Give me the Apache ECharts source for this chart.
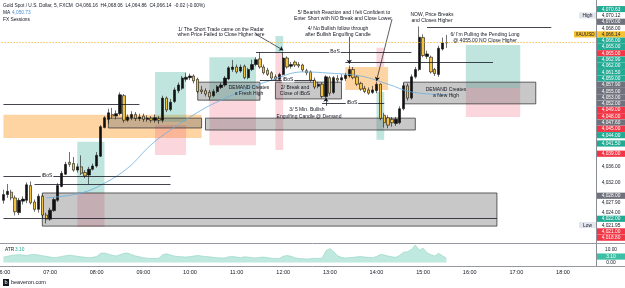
<!DOCTYPE html>
<html>
<head>
<meta charset="utf-8">
<script src="https://cdn.jsdelivr.net/npm/echarts@6/dist/echarts.min.js"></script>
<style>
html, body { margin: 0; padding: 0; background: #fff; }
#chart { width: 625px; height: 288px; }
</style>
</head>
<body>
<div id="chart"></div>
<script>
// XAUUSD 5 分钟图，06:00 开始
const slotCount = 153;

// [open, close, low, high]
const candles = [
  [4027.6,4029.0,4026.8,4030.2],[4029.0,4029.8,4028.2,4031.6],[4029.6,4028.2,4027.6,4030.2],[4028.2,4024.8,4023.9,4028.8],
  [4024.6,4027.6,4024.0,4028.2],[4027.4,4027.9,4026.6,4028.6],[4027.6,4031.4,4026.9,4032.0],[4031.2,4027.0,4026.6,4032.2],
  [4027.2,4025.4,4024.8,4027.8],[4025.4,4028.6,4024.6,4029.2],[4028.6,4024.0,4023.2,4029.0],[4024.0,4023.0,4021.95,4024.6],
  [4023.0,4025.2,4022.6,4025.8],[4025.1,4027.8,4024.8,4028.3],[4027.6,4031.2,4027.2,4031.8],[4031.0,4034.2,4030.8,4034.8],
  [4034.0,4036.4,4033.8,4037.0],[4036.9,4036.4,4035.8,4039.4],[4036.6,4035.0,4034.6,4038.2],[4035.0,4035.8,4034.4,4036.6],
  [4035.8,4034.2,4033.8,4038.6],[4034.4,4033.6,4033.0,4035.0],[4033.8,4035.2,4031.6,4035.8],[4035.2,4036.0,4034.9,4036.6],
  [4036.0,4038.6,4035.6,4039.4],[4038.4,4045.6,4038.2,4046.0],[4045.4,4047.8,4045.2,4048.2],[4047.4,4049.0,4046.4,4050.0],
  [4048.6,4048.2,4047.6,4050.2],[4048.2,4048.8,4047.4,4049.6],[4048.8,4053.4,4048.4,4054.0],[4053.2,4047.2,4046.6,4053.6],
  [4047.2,4048.0,4046.8,4048.6],[4047.8,4048.6,4047.2,4049.4],[4048.6,4047.6,4047.0,4049.2],[4047.6,4048.0,4047.0,4048.8],
  [4048.2,4047.4,4046.8,4048.8],[4047.4,4047.7,4046.8,4048.4],[4047.7,4047.2,4046.6,4048.2],[4047.2,4047.8,4046.6,4048.6],
  [4047.6,4047.2,4046.3,4048.2],[4047.2,4052.6,4046.6,4053.2],[4052.6,4049.7,4049.2,4053.0],[4049.8,4051.6,4049.4,4052.4],
  [4051.8,4054.6,4051.4,4055.2],[4054.4,4055.8,4053.8,4056.4],[4055.0,4057.5,4054.6,4058.0],[4057.2,4057.7,4056.6,4058.8],
  [4057.6,4058.0,4057.0,4058.6],[4058.0,4056.8,4056.2,4058.4],[4057.2,4054.2,4053.8,4057.6],[4054.6,4054.2,4053.6,4055.6],
  [4054.4,4053.6,4053.0,4055.0],[4054.0,4052.9,4052.1,4054.6],[4053.2,4054.2,4052.8,4054.8],[4054.2,4055.4,4053.8,4055.8],
  [4055.2,4055.8,4054.8,4056.4],[4055.8,4057.5,4055.4,4058.0],[4057.3,4060.0,4057.0,4060.4],[4059.6,4060.2,4059.0,4061.9],
  [4060.2,4059.0,4058.6,4060.8],[4059.2,4060.2,4058.8,4060.8],[4060.4,4057.6,4057.2,4060.8],[4057.6,4059.6,4057.2,4060.0],
  [4059.6,4060.8,4059.2,4062.0],[4060.8,4062.0,4060.4,4062.6],[4062.2,4060.2,4059.8,4063.8],[4060.2,4058.8,4058.4,4060.8],
  [4059.4,4058.4,4058.0,4060.0],[4058.8,4057.5,4057.0,4059.2],[4057.8,4057.2,4056.8,4058.4],[4057.2,4058.4,4056.8,4058.8],
  [4058.4,4062.4,4058.2,4063.9],[4062.4,4060.2,4059.8,4062.8],[4060.4,4060.8,4059.8,4061.4],[4061.4,4060.7,4060.2,4061.8],
  [4060.8,4060.5,4060.0,4061.4],[4060.7,4059.5,4059.0,4061.0],[4059.3,4058.8,4058.2,4059.8],[4059.0,4057.0,4056.6,4059.4],
  [4057.0,4055.3,4054.8,4057.6],[4055.5,4056.0,4055.0,4056.6],[4056.0,4053.0,4052.6,4056.4],[4053.0,4057.8,4052.6,4058.2],
  [4057.6,4053.8,4053.2,4058.0],[4054.0,4057.6,4053.6,4058.0],[4057.4,4057.0,4056.4,4058.2],[4057.0,4057.6,4056.6,4058.4],
  [4057.4,4058.2,4056.8,4058.8],[4058.0,4059.6,4057.6,4060.6],[4059.6,4057.6,4057.2,4060.2],[4057.8,4056.0,4055.6,4058.2],
  [4056.2,4054.8,4054.4,4056.6],[4055.0,4054.2,4053.8,4055.6],[4054.6,4053.8,4053.4,4055.2],[4054.0,4054.6,4053.6,4055.6],
  [4054.4,4056.0,4053.8,4056.6],[4056.0,4047.6,4047.2,4056.2],[4048.4,4046.6,4045.4,4049.0],[4047.8,4046.0,4045.2,4048.4],
  [4047.4,4046.6,4045.6,4048.0],[4046.4,4047.4,4045.8,4048.0],[4046.6,4050.0,4046.2,4050.6],[4050.0,4055.6,4049.6,4056.2],
  [4055.6,4052.6,4052.0,4056.2],[4052.6,4057.8,4052.2,4058.4],[4057.8,4059.6,4057.4,4060.2],[4059.6,4067.5,4059.2,4070.12],
  [4067.4,4063.0,4062.6,4068.2],[4062.8,4063.4,4062.2,4064.2],[4062.6,4059.0,4058.6,4063.0],[4059.6,4058.6,4058.0,4060.0],
  [4058.4,4064.8,4057.8,4065.4],[4064.6,4066.1,4064.2,4067.4],[4066.16,4066.14,4064.86,4068.06]
];

const atrValues = [
  4.0,4.6,5.2,5.6,5.8, 5.5,5.2,5.8,6.0,5.6,5.0,4.6, 4.0,3.6,3.9,4.5,5.0,5.4,5.0,
  4.6,4.2,3.8,3.6,3.8,4.4, 6.8,7.0,6.2, 5.4,4.8,5.8,6.8, 7.0, 5.8,4.8,4.2,3.6,3.2,3.0,3.0,3.2,
  5.8,6.4,5.6, 4.8,4.4,4.2,4.0,4.4,4.8,5.2, 4.8,4.4,4.2,3.8,3.6,3.4,3.4, 4.2,4.4,4.0,3.6,4.2,4.0,3.6,
  3.4,3.8,4.0,3.6,3.2,3.0,3.0, 4.6,5.2,4.6,3.6,3.0, 2.8,2.6,2.8,3.2,3.0,3.2, 8.6,10.4,8.0,
  5.0,3.8,3.4,3.6,3.8, 4.2,4.4,4.0,3.8,3.6,4.4, 6.0,5.6,4.8,4.2,3.8, 5.4,7.6,8.0,9.6, 13.0,9.0,10.6,
  7.2,5.8,4.8,6.8,5.0,3.1
];

const maPoints = [
  ['06:55',4028.2],['07:40',4029.4],['08:10',4031.8],['08:40',4035.5],['09:10',4041.2],['09:35',4044.8],
  ['10:15',4049.7],['10:40',4052.1],['11:10',4054.6],['11:45',4057.0],['12:25',4059.0],['13:00',4058.7],
  ['13:40',4058.0],['14:15',4056.0],['14:45',4054.1],['15:30',4053.4]
];

// 画图工具：[起, 止, 上沿, 下沿]
const tealBoxes = [
  ['07:35','08:10',4041.9,4029.4],['09:15','09:55',4059.0,4046.8],['10:25','11:25',4062.6,4052.1],
  ['11:50','12:00',4067.8,4063.6],['14:00','14:10',4054.1,4042.4],['15:55','17:05',4065.6,4055.1]
];
const pinkBoxes = [
  ['07:35','08:10',4029.4,4021.1],['09:15','09:55',4046.0,4038.7],['10:25','11:25',4052.1,4041.1],
  ['11:50','12:00',4063.6,4039.9],['14:00','14:10',4064.9,4060.2],['15:55','17:05',4055.1,4048.0]
];
const orangeBoxes = [['06:00','10:15',4048.5,4042.85],['13:20','14:15',4060.2,4054.6]];
const grayBoxes = [
  ['06:50','16:35',4029.4,4021.3],['08:15','10:15',4047.7,4045.3],['10:10','11:30',4056.5,4052.1],
  ['10:20','14:50',4047.7,4044.8],['11:50','13:15',4056.5,4052.4],['14:35','17:25',4056.5,4051.2]
];
// 水平线：[起, 止, 价格]
const hLines = [
  ['06:00','08:55',4051.2],['06:00','09:35',4033.55],['06:40','09:35',4031.6],['06:00','16:35',4023.3],
  ['11:25','14:45',4063.9],['11:30','12:40',4057.0],['12:50','14:10',4051.4],['13:20','16:30',4061.4],
  ['15:05','17:45',4070.0]
];
// 箭头：[起点, 终点, 弯曲度]
const arrows = [
  [['11:25',4068.2],['12:00',4064.3],0],
  [['13:25',4067.6],['13:25',4061.0],0],
  [['14:20',4071.9],['14:00',4056.8],0.35],
  [['12:55',4050.7],['12:55',4052.7],0]
];
const lastPrice = 4066.14;

// 右侧价格标签：[价格, 类型]
const priceTags = [
  [4070.63,'up'],[4070.12,'high'],[4070.00,'gray'],[4068.00,'plain'],[4066.14,'last'],[4066.00,'up'],
  [4065.00,'up'],[4065.00,'down'],[4062.90,'up'],[4062.00,'up'],[4061.50,'up'],[4059.00,'up'],
  [4057.90,'gray'],[4055.00,'gray'],[4053.00,'gray'],[4052.00,'gray'],[4049.00,'down'],[4048.00,'down'],
  [4047.60,'gray'],[4045.00,'down'],[4044.00,'up'],[4041.50,'up'],[4039.00,'down'],[4036.00,'plain'],
  [4032.00,'plain'],[4028.00,'gray'],[4027.90,'plain'],[4024.00,'plain'],[4022.00,'up'],[4021.95,'low'],
  [4021.00,'down'],[4018.80,'down']
];
const atrTags = [[10.00,'plain'],[3.10,'atr'],[0.00,'plain']];

const notes = [
  ['1/ The Short Trade came on the Radar', 221, 29.5], ['when Price Failed to Close Higher here', 221, 35],
  ['5/ Bearish Reaction and I felt Confident to', 344, 12.5], ['Enter Short with NO Break and Close Lower', 343, 18.5],
  ['4/ No Bullish follow through', 338, 29], ['after Bullish Engulfing Candle', 338, 34.5],
  ['NOW, Price Breaks', 432, 15], ['and Closes Higher', 432, 21],
  ['6/ I\u2019m Pulling the Pending Long', 485, 34.5], ['@ 4055.00 NO Close Higher', 485, 40.8],
  ['DEMAND Creates', 249, 87.5], ['a Fresh High', 249, 94],
  ['2/ Break and', 295, 87.5], ['Close of iBoS', 295, 93.5],
  ['3/ 5 Min. Bullish', 307, 110], ['Engulfing Candle @ Demand', 309, 116.5],
  ['DEMAND Creates', 446, 89.5], ['a New High', 446, 96]
];
const lineTags = [['BoS', 335, 52], ['iBoS', 288, 80], ['iBoS', 352, 103], ['iBoS', 47, 176]];

const FONT = '"Liberation Sans", Arial, sans-serif';
const pad = n => (n < 10 ? '0' : '') + n;
const times = [];
for (let i = 0; i < slotCount; i++) {
  const m = 360 + 5 * i;
  times.push(pad(Math.floor(m / 60)) + ':' + pad(m % 60));
}

function boxData(list, fill, border) {
  return list.map(b => [
    { xAxis: b[0], yAxis: b[2], itemStyle: { color: fill, borderColor: border || 'transparent', borderWidth: border ? 0.8 : 0 } },
    { xAxis: b[1], yAxis: b[3] }
  ]);
}

const areas = [].concat(
  boxData(orangeBoxes, 'rgba(255,160,50,0.45)'),
  boxData(tealBoxes, 'rgba(60,175,155,0.32)'),
  boxData(pinkBoxes, 'rgba(240,90,120,0.25)'),
  boxData(grayBoxes, 'rgba(110,110,110,0.38)', '#3a3a3a')
);

const lines = [].concat(
  hLines.map(l => [{ coord: [l[0], l[2]] }, { coord: [l[1], l[2]] }]),
  arrows.map(a => [
    { coord: a[0], symbol: 'none', lineStyle: { color: '#131722', width: 0.7, curveness: a[2] } },
    { coord: a[1], symbol: 'arrow', symbolSize: 4 }
  ]),
  [{ yAxis: lastPrice, lineStyle: { color: '#f0b429', type: [1.2, 1.8], width: 1 } }]
);

const chart = echarts.init(document.getElementById('chart'));
chart.setOption({
  animation: false,
  backgroundColor: '#fff',
  grid: [
    { left: 1.5, right: 29, top: 0, height: 243, outerBoundsMode: 'none' },
    { left: 1.5, right: 29, top: 243, height: 23, outerBoundsMode: 'none' }
  ],
  xAxis: [
    { type: 'category', gridIndex: 0, data: times, axisLine: { show: false }, axisTick: { show: false },
      axisLabel: { show: false }, splitLine: { show: false } },
    { type: 'category', gridIndex: 1, data: times, axisLine: { show: false }, axisTick: { show: false },
      axisLabel: { interval: (idx, val) => val.endsWith(':00'), fontSize: 5.5, color: '#131722', margin: 3, fontFamily: FONT },
      splitLine: { show: false } }
  ],
  yAxis: [
    { type: 'value', gridIndex: 0, position: 'right', min: 4017.17, max: 4076.59,
      axisLine: { show: true, lineStyle: { color: '#8a8d96', width: 1 } }, axisTick: { show: false },
      axisLabel: { show: false }, splitLine: { show: false } },
    { type: 'value', gridIndex: 1, position: 'right', min: -2.59, max: 14.44,
      axisLine: { show: true, lineStyle: { color: '#8a8d96', width: 1 } }, axisTick: { show: false },
      axisLabel: { show: false }, splitLine: { show: false } }
  ],
  series: [
    {
      type: 'candlestick', xAxisIndex: 0, yAxisIndex: 0, data: candles, barWidth: 2.8,
      itemStyle: { color: '#111', color0: '#f4c344', borderColor: '#111', borderColor0: '#111', borderWidth: 0.6 },
      markArea: { silent: true, data: areas },
      markLine: { silent: true, symbol: 'none', label: { show: false },
        lineStyle: { color: '#131722', width: 0.8, type: 'solid' }, data: lines }
    },
    {
      type: 'line', xAxisIndex: 0, yAxisIndex: 0, data: maPoints, smooth: 0.4, symbol: 'none',
      lineStyle: { color: '#6aaee0', width: 0.8 }, z: 3
    },
    {
      type: 'line', xAxisIndex: 1, yAxisIndex: 1, data: atrValues, symbol: 'none',
      lineStyle: { color: '#8fd3c3', width: 0.6 }, areaStyle: { color: '#bfe8de', opacity: 1 }
    }
  ]
});

// 右侧标签防重叠：按簇居中排布
function stackTags(items, h, minY, maxY) {
  items.sort((a, b) => a.y - b.y);
  const place = c => {
    let top = c.sum / c.items.length - (c.items.length - 1) * h / 2;
    top = Math.max(minY + h / 2, Math.min(top, maxY - h / 2 - (c.items.length - 1) * h));
    c.top = top;
  };
  const clusters = items.map(it => ({ items: [it], sum: it.y }));
  clusters.forEach(place);
  let changed = true;
  while (changed) {
    changed = false;
    for (let k = 0; k < clusters.length - 1; k++) {
      const a = clusters[k], b = clusters[k + 1];
      if (a.top + a.items.length * h > b.top + 0.01) {
        a.items = a.items.concat(b.items); a.sum += b.sum;
        clusters.splice(k + 1, 1); place(a); changed = true; break;
      }
    }
  }
  clusters.forEach(c => c.items.forEach((it, j) => { it.py = c.top + j * h; }));
  return items;
}

const tagColors = {
  up: ['#22ab94', '#fff'], down: ['#f23645', '#fff'], gray: ['#6f727c', '#fff'],
  last: ['#f7c331', '#131722'], high: ['#fff', '#131722'], low: ['#fff', '#131722'],
  plain: [null, '#131722'], atr: ['#3cbfa4', '#fff']
};
const fmt = v => v.toLocaleString('en-US', { minimumFractionDigits: 2, maximumFractionDigits: 2 });

const g = [];
function txt(text, x, y, opt) {
  opt = opt || {};
  g.push({ type: 'text', x, y, z: 100, silent: true, style: Object.assign({
    text, fill: '#131722', font: (opt.size || 5) + 'px ' + FONT,
    align: opt.align || 'center', verticalAlign: 'middle', textAlign: opt.align || 'center', textVerticalAlign: 'middle'
  }, opt.style || {}) });
}
function rect(x, y, w, h, fill, z) {
  g.push({ type: 'rect', z: z || 99, silent: true, shape: { x, y, width: w, height: h }, style: { fill } });
}
function hline(x1, x2, y, color) {
  g.push({ type: 'line', z: 98, silent: true, shape: { x1, y1: y, x2, y2: y }, style: { stroke: color, lineWidth: 1 } });
}

function drawTags(list, axisIndex, minY, maxY) {
  const items = list.map(t => ({ v: t[0], kind: t[1], y: chart.convertToPixel({ yAxisIndex: axisIndex }, t[0]) }));
  stackTags(items, 6.3, minY, maxY).forEach(it => {
    const c = tagColors[it.kind];
    if (c[0]) rect(597, it.py - 3.1, 28, 6.2, c[0]);
    txt(fmt(it.v), 611, it.py + 0.2, { size: 4.8, style: { fill: c[1] } });
    if (it.kind === 'high' || it.kind === 'low') {
      rect(579, it.py - 3.1, 17, 6.2, '#e3e6ee');
      txt(it.kind === 'high' ? 'High' : 'Low', 587.5, it.py + 0.2, { size: 4.8 });
    }
    if (it.kind === 'last') {
      rect(574, it.py - 3.1, 22, 6.2, '#f7c331');
      txt('XAUUSD', 585, it.py + 0.2, { size: 4.6 });
    }
  });
}

hline(0, 625, 243.5, '#9598a1');
hline(0, 625, 266.5, '#9598a1');
drawTags(priceTags, 0, 0, 243);
drawTags(atrTags, 1, 244, 266);

notes.forEach(n => txt(n[0], n[1], n[2]));
lineTags.forEach(n => txt(n[0], n[1], n[2], { style: { backgroundColor: '#fff', padding: [0, 1] } }));

txt('Gold Spot / U.S. Dollar, 5, FXCM  O4,066.16  H4,068.06  L4,064.86  C4,066.14  -0.02 (-0.00%)', 3, 6, { align: 'left', size: 4.8 });
txt('MA', 3, 13, { align: 'left', size: 4.8 });
txt('4,050.73', 12, 13, { align: 'left', size: 4.8, style: { fill: '#4a90d9' } });
txt('FX Sessions', 3, 20, { align: 'left', size: 4.8 });
txt('ATR', 5, 249.5, { align: 'left', size: 4.8 });
txt('3.10', 15, 249.5, { align: 'left', size: 4.8, style: { fill: '#22ab94' } });

rect(3, 279, 6, 7, '#131722');
txt('b', 6, 282.5, { size: 5.5, style: { fill: '#fff' } });
txt('beaveron.com', 11, 282.5, { align: 'left', size: 5.5 });

chart.setOption({ graphic: g });
</script>
</body>
</html>
